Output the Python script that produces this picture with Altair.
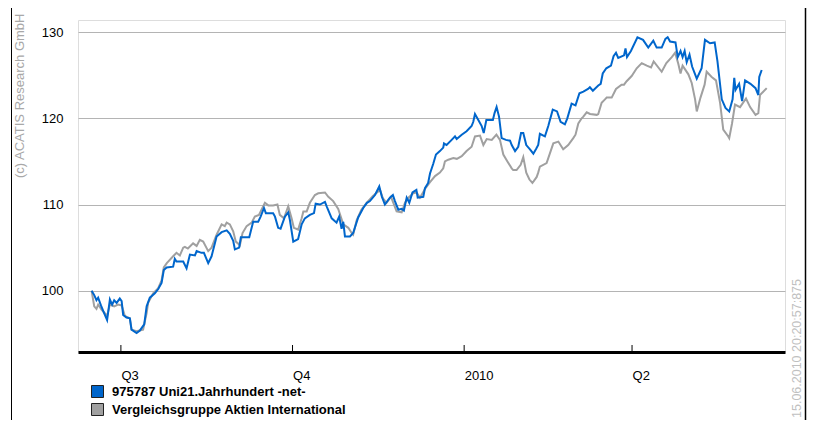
import altair as alt
import pandas as pd

START = "2009-06-15"

fund_name = "975787 Uni21.Jahrhundert -net-"
peer_name = "Vergleichsgruppe Aktien International"
copyright_text = "(c) ACATIS Research GmbH"
stamp_text = "15.06.2010 20:20:57:875"

quarter_ticks = ["2009-07-01", "2009-10-01", "2010-01-01", "2010-04-01"]
y_ticks = [100, 110, 120, 130]

# days since START, indexed value
fund_day = [0.3, 1.7, 2.9, 3.8, 5.3, 7.0, 8.6, 10.1, 11.3, 12.4, 13.7, 15.4, 16.4, 17.2, 19.0, 20.8, 21.7, 24.4, 26.2, 28.5,
            29.8, 31.5, 34.2, 36.0, 37.8, 39.0, 40.5, 44.0, 44.9, 45.8, 49.4, 51.2, 53.0, 55.7, 56.6, 59.2, 60.5, 62.8, 64.6, 67.3,
            70.0, 72.7, 74.4, 76.2, 77.1, 79.4, 80.3, 84.8, 86.9, 89.6, 90.9, 92.7, 93.7, 97.6, 98.6, 100.3, 101.6, 103.9, 105.7, 106.6,
            108.4, 111.0, 112.9, 114.6, 117.3, 119.5, 120.4, 122.7, 125.4, 126.3, 129.0, 131.6, 133.0, 134.3, 135.2, 136.1, 138.8, 140.5, 143.2, 145.9,
            147.9, 149.5, 152.2, 154.5, 155.9, 157.5, 160.2, 161.8, 162.9, 164.7, 166.5, 167.7, 169.2, 170.6, 172.3, 174.4, 175.1, 178.1, 179.0, 180.7,
            181.7, 183.4, 184.9, 187.0, 188.8, 189.2, 190.6, 193.3, 195.1, 196.0, 198.7, 201.3, 204.0, 204.9, 205.8, 207.6, 209.4, 210.5, 211.9, 215.4,
            216.3, 217.4, 218.7, 220.1, 222.4, 224.6, 225.5, 227.3, 229.0, 230.5, 231.7, 233.3, 235.3, 237.1, 238.7, 239.7, 240.6, 243.3, 245.1, 247.5,
            249.8, 251.7, 254.0, 255.3, 257.6, 259.7, 261.8, 263.9, 266.4, 267.4, 269.0, 271.9, 273.2, 274.3, 276.2, 278.7, 280.1, 281.4, 282.6, 285.7,
            286.5, 287.3, 289.4, 292.9, 295.9, 298.7, 301.4, 303.2, 305.9, 307.9, 309.1, 310.4, 313.3, 314.5, 316.0, 317.1, 318.2, 319.3, 320.8, 322.2,
            324.7, 327.3, 329.1, 331.8, 334.3, 335.8, 338.1, 340.1, 342.1, 343.9, 344.8, 345.5, 347.4, 349.0, 350.6, 353.5, 356.2, 357.7, 358.2, 359.5]
fund_val = [100.0, 99.5, 98.9, 99.2, 98.3, 97.4, 96.6, 99.0, 98.4, 98.9, 98.6, 99.1, 98.8, 97.2, 96.9, 96.8, 95.5, 95.1, 95.4, 96.1,
            98.2, 99.2, 99.7, 100.2, 100.9, 102.4, 102.7, 102.8, 103.7, 103.4, 103.4, 102.6, 104.2, 104.1, 104.6, 104.4, 104.4, 103.2, 104.0, 106.3,
            106.8, 107.0, 106.6, 105.8, 104.8, 105.0, 106.2, 106.2, 108.0, 108.0, 108.6, 109.6, 109.0, 109.0, 108.6, 107.3, 107.2, 108.6, 109.1, 108.2,
            105.7, 106.0, 107.7, 108.4, 108.8, 109.0, 110.1, 110.0, 110.3, 109.8, 108.4, 107.9, 108.6, 107.2, 108.0, 106.3, 106.3, 106.7, 108.5, 109.6,
            110.2, 110.4, 111.1, 112.1, 110.9, 110.0, 110.8, 111.1, 110.4, 109.4, 109.5, 109.3, 110.8, 110.2, 111.4, 111.7, 110.8, 110.9, 111.9, 112.5,
            113.6, 114.7, 115.8, 116.2, 116.6, 117.1, 116.9, 117.5, 117.9, 117.6, 118.1, 118.5, 119.1, 119.6, 120.5, 119.8, 119.1, 118.3, 119.8, 119.8,
            120.6, 121.3, 120.2, 117.7, 117.5, 117.4, 116.9, 116.2, 116.7, 118.3, 118.3, 116.9, 116.4, 115.9, 116.5, 116.9, 118.2, 117.9, 119.1, 121.0,
            120.8, 119.6, 119.3, 120.0, 121.7, 121.5, 122.9, 123.1, 123.4, 123.6, 123.2, 123.8, 124.0, 125.2, 125.8, 126.1, 127.2, 127.6, 127.0, 127.3,
            128.1, 127.1, 127.8, 129.4, 129.1, 128.2, 129.0, 128.2, 128.2, 129.2, 129.4, 128.9, 128.8, 127.1, 127.8, 127.1, 127.8, 126.5, 127.4, 126.0,
            124.6, 125.8, 129.1, 128.7, 128.8, 126.6, 122.2, 121.2, 120.8, 122.2, 124.7, 123.3, 124.0, 122.0, 124.4, 124.0, 123.5, 122.7, 124.8, 125.6]

peer_day = [0.3, 1.7, 2.9, 3.8, 5.6, 7.4, 8.6, 10.1, 12.4, 14.5, 16.4, 18.1, 20.8, 21.7, 24.4, 27.9, 29.8, 30.6, 33.3, 36.0,
            37.8, 39.0, 40.6, 44.0, 45.8, 47.6, 49.4, 50.3, 51.9, 54.7, 56.6, 58.3, 60.1, 62.8, 64.6, 67.3, 70.0, 71.7, 72.7, 74.4,
            76.2, 77.6, 79.8, 81.2, 83.4, 86.1, 87.8, 90.0, 93.2, 95.0, 97.6, 99.9, 101.2, 103.4, 105.7, 107.5, 108.7, 111.0, 112.9, 113.8,
            115.6, 117.3, 120.0, 121.8, 125.4, 127.2, 129.8, 132.5, 135.2, 137.9, 139.7, 140.5, 142.4, 144.9, 147.7, 151.1, 154.9, 156.5, 158.4, 160.8,
            163.8, 166.5, 168.3, 170.1, 172.7, 174.5, 176.3, 179.0, 181.7, 184.4, 187.0, 188.8, 189.7, 191.5, 194.2, 196.1, 198.7, 201.3, 204.0, 205.8,
            208.5, 210.3, 212.1, 214.8, 217.3, 219.2, 221.0, 223.2, 225.5, 226.3, 228.1, 230.3, 231.7, 233.3, 235.0, 236.6, 238.9, 239.7, 240.6, 244.2,
            247.8, 250.5, 253.1, 255.8, 258.5, 259.7, 261.2, 263.0, 263.9, 265.7, 267.5, 271.1, 271.9, 273.7, 275.5, 276.4, 279.1, 281.4, 284.4, 285.7,
            287.1, 289.8, 292.5, 295.2, 297.9, 300.2, 301.6, 305.9, 308.4, 311.3, 313.1, 314.7, 316.0, 317.1, 320.2, 322.0, 323.8, 324.7, 326.7, 328.9,
            330.0, 332.7, 335.0, 337.2, 338.9, 341.6, 342.1, 343.6, 345.2, 347.9, 351.1, 353.3, 356.2, 357.7, 358.6, 362.2]
peer_val = [100.0, 98.2, 97.9, 98.4, 97.8, 97.4, 97.1, 98.4, 98.2, 98.4, 98.3, 97.1, 96.8, 95.5, 95.3, 95.5, 97.4, 98.6, 99.7, 100.3,
            101.2, 102.7, 103.2, 104.0, 104.4, 104.1, 105.0, 105.1, 104.9, 105.5, 105.2, 105.9, 105.7, 104.6, 105.0, 106.5, 107.7, 107.5, 107.9, 107.7,
            106.9, 105.7, 105.3, 106.7, 107.5, 107.9, 108.6, 108.8, 110.2, 109.9, 109.9, 110.0, 108.8, 108.4, 109.8, 108.4, 107.3, 107.1, 108.4, 109.2,
            109.2, 110.2, 111.1, 111.3, 111.4, 110.9, 110.4, 109.5, 107.7, 107.3, 106.7, 106.5, 108.2, 109.4, 110.2, 111.0, 111.7, 110.7, 110.2, 110.9,
            109.2, 109.1, 110.2, 110.8, 111.3, 111.4, 110.8, 111.8, 112.6, 113.3, 113.7, 114.2, 115.0, 115.2, 115.4, 115.3, 115.6, 116.2, 116.7, 117.9,
            118.0, 116.9, 117.6, 117.5, 118.1, 117.5, 115.8, 115.0, 114.2, 114.0, 114.0, 114.6, 115.5, 113.7, 112.9, 112.5, 113.2, 113.7, 114.4, 114.8,
            117.1, 117.3, 116.4, 116.9, 117.7, 118.1, 119.4, 120.0, 120.2, 120.7, 120.5, 120.4, 120.5, 121.8, 122.2, 122.4, 122.4, 123.4, 123.9, 123.9,
            124.3, 124.9, 125.8, 126.4, 126.1, 125.9, 126.6, 125.4, 126.4, 127.1, 127.6, 126.4, 125.2, 126.1, 125.1, 124.1, 122.2, 120.8, 122.4, 123.9,
            125.4, 124.8, 124.4, 121.8, 118.7, 117.9, 117.7, 119.4, 121.6, 121.3, 122.3, 121.3, 120.4, 120.6, 122.7, 123.5]

W, H = 707, 332
FONT = "Liberation Sans"

start = pd.Timestamp(START)
fund_df = pd.DataFrame({"date": start + pd.to_timedelta(fund_day, unit="D"), "value": fund_val})
peer_df = pd.DataFrame({"date": start + pd.to_timedelta(peer_day, unit="D"), "value": peer_val})
tick_df = pd.DataFrame({"date": pd.to_datetime(quarter_ticks)})
one = pd.DataFrame({"k": [0]})


def dt(s):
    return alt.DateTime(year=int(s[:4]), month=int(s[5:7]), date=int(s[8:10]))


xscale = alt.Scale(domain=[dt("2009-06-08"), dt("2010-06-22")])
yscale = alt.Scale(domain=[92.9, 131.4], nice=False, zero=False)


def xaxis():
    return alt.Axis(
        values=[dt(s) for s in quarter_ticks],
        labelExpr="month(datum.value) == 0 ? timeFormat(datum.value, '%Y') : 'Q' + (floor(month(datum.value) / 3) + 1)",
        title=None, grid=False, ticks=False, domain=True, domainColor="black", domainWidth=3,
        labelAlign="left", labelBaseline="top", labelPadding=17, labelFlush=False, labelOverlap=False,
        labelFont=FONT, labelFontSize=13, labelColor="black",
    )


def yaxis():
    return alt.Axis(
        values=y_ticks, title=None, grid=True, gridColor="#b4b4b4", gridWidth=1,
        ticks=False, domain=False, labelPadding=15, labelFont=FONT, labelFontSize=13, labelColor="black",
    )


peer = alt.Chart(peer_df).mark_line(color="#a0a0a0", strokeWidth=2).encode(
    x=alt.X("date:T", scale=xscale, axis=xaxis(), title=None),
    y=alt.Y("value:Q", scale=yscale, axis=yaxis(), title=None),
)
fund = alt.Chart(fund_df).mark_line(color="#0066cc", strokeWidth=2).encode(
    x=alt.X("date:T", scale=xscale, axis=xaxis(), title=None),
    y=alt.Y("value:Q", scale=yscale, axis=yaxis(), title=None),
)
ticks = alt.Chart(tick_df).mark_rule(color="black", strokeWidth=1).encode(
    x=alt.X("date:T", scale=xscale, axis=xaxis(), title=None),
    y=alt.value(H - 7), y2=alt.value(H),
)

frame_left = alt.Chart(one).mark_rule(color="black", strokeWidth=1).encode(
    x=alt.value(-66.5), y=alt.value(-14.5), y2=alt.value(420),
)
frame_top = alt.Chart(one).mark_rule(color="black", strokeWidth=1).encode(
    x=alt.value(-66.5), x2=alt.value(727.5), y=alt.value(-14.5),
)
frame_right = alt.Chart(one).mark_rule(color="black", strokeWidth=1.5).encode(
    x=alt.value(727.5), y=alt.value(-14.5), y2=alt.value(420),
)

leg_fund_box = alt.Chart(one).mark_rect(fill="#0066cc", stroke="#222222", strokeWidth=1).encode(
    x=alt.value(13.5), x2=alt.value(25.5), y=alt.value(365.5), y2=alt.value(377.5),
)
leg_peer_box = alt.Chart(one).mark_rect(fill="#a0a0a0", stroke="#222222", strokeWidth=1).encode(
    x=alt.value(13.5), x2=alt.value(25.5), y=alt.value(383.5), y2=alt.value(395.5),
)
leg_fund_txt = alt.Chart(one).mark_text(align="left", baseline="middle", font=FONT, fontSize=13,
                                         fontWeight="bold", color="black").encode(
    x=alt.value(34), y=alt.value(372), text=alt.value(fund_name),
)
leg_peer_txt = alt.Chart(one).mark_text(align="left", baseline="middle", font=FONT, fontSize=13,
                                         fontWeight="bold", color="black").encode(
    x=alt.value(34), y=alt.value(390), text=alt.value(peer_name),
)

copyright = alt.Chart(one).mark_text(align="left", baseline="middle", angle=270, font=FONT, fontSize=13,
                                      color="#a8a8a8").encode(
    x=alt.value(-58), y=alt.value(158), text=alt.value(copyright_text),
)
stamp = alt.Chart(one).mark_text(align="left", baseline="middle", angle=270, font=FONT, fontSize=12.5,
                                  color="#c0c0c0").encode(
    x=alt.value(719), y=alt.value(398), text=alt.value(stamp_text),
)

chart = alt.layer(
    peer, fund, ticks, frame_left, frame_top, frame_right,
    leg_fund_box, leg_peer_box, leg_fund_txt, leg_peer_txt, copyright, stamp
).properties(
    width=W, height=H,
    autosize=alt.AutoSizeParams(type="none"),
    padding={"left": 70, "top": 12, "right": 23, "bottom": 68},
).configure_view(stroke=None).configure(background="white")

chart.save("out.html", embed_options={"renderer": "svg", "actions": False})
